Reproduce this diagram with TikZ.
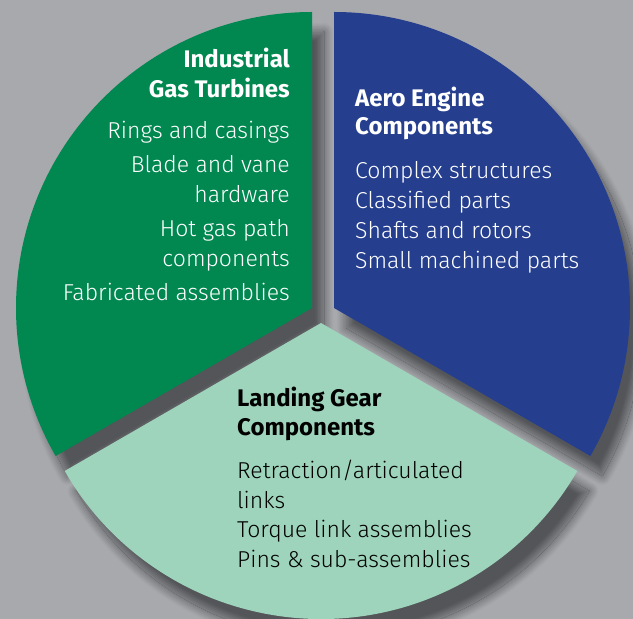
\documentclass[tikz,border=0pt]{standalone}
\usepackage{fontspec}
\setmainfont{Fira Sans}[UprightFont=* Light, BoldFont=* Bold]
\definecolor{bgc}{RGB}{167,169,172}
\definecolor{shc}{RGB}{84,85,88}
\definecolor{greenc}{RGB}{0,136,80}
\definecolor{bluec}{RGB}{37,63,142}
\definecolor{lightc}{RGB}{158,212,188}
\def\pathG{(312,311) -- ++(0,296) arc[start angle=90, end angle=210, radius=296pt] -- cycle}
\def\pathB{(334,311) -- ++(0,296) arc[start angle=90, end angle=-30, radius=296pt] -- cycle}
\def\pathL{(321,296) -- ++(210:296pt) arc[start angle=210, end angle=330, radius=296pt] -- cycle}
\tikzset{
  txt/.style={inner sep=0pt, font=\fontsize{23}{27}\selectfont},
  hd/.style={font=\fontsize{24}{28}\selectfont\bfseries},
  wtxt/.style={txt, text=white},
  ktxt/.style={txt, text=black},
  lgreen/.style={wtxt, anchor=base east},
  lblue/.style={wtxt, anchor=base west},
  llight/.style={ktxt, anchor=base west},
}
\begin{document}
\begin{tikzpicture}[x=1pt,y=1pt]
\useasboundingbox (0,0) rectangle (633,619);
\fill[bgc] (0,0) rectangle (633,619);
% blurred drop shadow
\begin{scope}[shift={(12,-20)}]
  \foreach \P in {\pathG,\pathB,\pathL}{
    \foreach \k in {6,5,4,3,2,1}{
      \pgfmathsetmacro{\w}{2*9*\k/6}
      \pgfmathsetmacro{\p}{50*(1-(\k-0.5)/6)}
      \draw[line width=\w pt, line join=round, draw=shc!\p!bgc, fill=shc!\p!bgc] \P;
    }
    \fill[shc] \P;
    \begin{scope}
      \clip \P;
      \foreach \k in {6,5,4,3,2,1}{
        \pgfmathsetmacro{\w}{2*9*\k/6}
        \pgfmathsetmacro{\p}{50*(1+(\k-0.5)/6)}
        \draw[line width=\w pt, line join=round, draw=shc!\p!bgc] \P;
      }
    \end{scope}
  }
\end{scope}
% sectors
\fill[greenc] \pathG;
\fill[bluec] \pathB;
\fill[lightc] \pathL;
% green texts
\node[lgreen, hd] (g1) at (290,551.7) {Industrial};
\node[lgreen, hd] (g2) at (290,521.7) {Gas Turbines};
\node[lgreen] (g3) at (290,480) {Rings and casings};
\node[lgreen] (g4) at (290,446.5) {Blade and vane};
\node[lgreen] (g5) at (290,416) {hardware};
\node[lgreen] (g6) at (290,382.5) {Hot gas path};
\node[lgreen] (g7) at (290,352.5) {components};
\node[lgreen] (g8) at (290,318.3) {Fabricated assemblies};
% blue texts
\node[lblue, hd] (b1) at (355,512.3) {Aero Engine};
\node[lblue, hd] (b2) at (355,484) {Components};
\node[lblue] (b3) at (355,440.8) {Complex structures};
\node[lblue] (b4) at (355,410.7) {Classified parts};
\node[lblue] (b5) at (355,380.2) {Shafts and rotors};
\node[lblue] (b6) at (355,350.5) {Small machined parts};
% light green texts
\node[llight, hd] (l1) at (237,212) {Landing Gear};
\node[llight, hd] (l2) at (237,183) {Components};
\node[llight] (l3) at (237,140.7) {Retraction/articulated};
\node[llight] (l4) at (237,110.7) {links};
\node[llight] (l5) at (237,81.7) {Torque link assemblies};
\node[llight] (l6) at (237,51.3) {Pins \& sub-assemblies};
\end{tikzpicture}
\end{document}
